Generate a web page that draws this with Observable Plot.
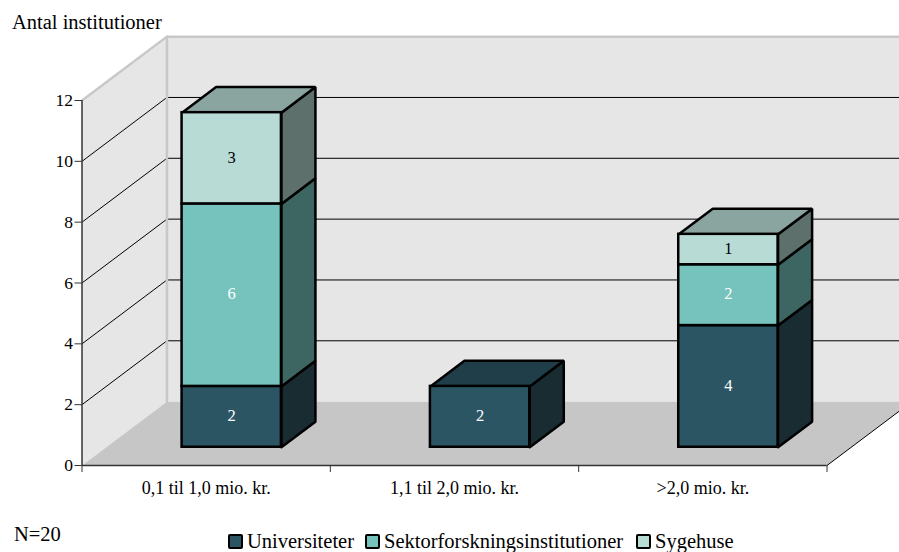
<!DOCTYPE html>
<html lang="da">
<head>
<meta charset="utf-8">
<script src="https://cdn.jsdelivr.net/npm/d3@7"></script>
<script src="https://cdn.jsdelivr.net/npm/@observablehq/plot@0.6"></script>
<style>
  html, body { margin: 0; padding: 0; background: #fff; }
  body { width: 899px; height: 552px; overflow: hidden; font-family: "Liberation Serif", serif; color: #000; position: relative; }
  #title { position: absolute; left: 12px; top: 10px; font-size: 20.5px; line-height: 24px; white-space: nowrap; }
  #chart { position: absolute; left: 0; top: 0; }
  #note { position: absolute; left: 14px; top: 522px; font-size: 20.5px; line-height: 24px; }
  .item { position: absolute; top: 529px; font-size: 20.5px; line-height: 24px; white-space: nowrap; }
  .swatch { position: absolute; top: 5px; left: -19px; width: 11px; height: 11px; border: 2px solid #000; border-radius: 2px; }
</style>
</head>
<body>
<div id="title">Antal institutioner</div>
<div id="chart"></div>
<div id="note">N=20</div>
<div id="legend"></div>
<script>
const categories = ["0,1 til 1,0 mio. kr.", "1,1 til 2,0 mio. kr.", ">2,0 mio. kr."];
const seriesNames = ["Universiteter", "Sektorforskningsinstitutioner", "Sygehuse"];
const universiteter = [2, 2, 4];
const sektor = [6, 0, 2];
const sygehuse = [3, 0, 1];
const seriesValues = [universiteter, sektor, sygehuse];
const yTicks = [0, 2, 4, 6, 8, 10, 12];

const frontColors = ["#2c5564", "#75c3bc", "#b8dcd5"];
const sideColors  = ["#192c32", "#3d6561", "#5d706b"];
const topColors   = ["#1f3e49", "#568f8a", "#8aa5a0"];
const textColors  = ["#ffffff", "#ffffff", "#000000"];
const legendLefts = [247, 384, 655];

// 3-D projection, expressed in the units of the x (category) and y (count) scales
const wallDX = 0.342, wallDY = 2.1;
const barDX = 0.137, barDY = 0.84;
const barBase = 0.6, barLeft = 0.403, barWidth = 0.4;
const wallEndX = 3.5;

const poly = (id, color, pts) => pts.concat(pts.slice(0, 1)).map(([x, y]) => ({id, color, x, y}));

const fronts = [], faces = [], labels = [];
categories.forEach((cat, c) => {
  const x1 = c + barLeft, x2 = x1 + barWidth;
  let y = barBase;
  const active = seriesValues.map((v, s) => s).filter(s => seriesValues[s][c] > 0);
  active.forEach((s, k) => {
    const v = seriesValues[s][c], y2 = y + v;
    faces.push(...poly(`side-${c}-${s}`, sideColors[s],
      [[x2, y], [x2 + barDX, y + barDY], [x2 + barDX, y2 + barDY], [x2, y2]]));
    if (k === active.length - 1) {
      faces.push(...poly(`top-${c}-${s}`, topColors[s],
        [[x1, y2], [x1 + barDX, y2 + barDY], [x2 + barDX, y2 + barDY], [x2, y2]]));
    }
    fronts.push({x1, x2, y1: y, y2, color: frontColors[s]});
    labels.push({x: (x1 + x2) / 2, y: (y + y2) / 2, text: String(v), color: textColors[s]});
    y = y2;
  });
});

const leftWall = poly("left", "#e6e6e6", [[0, 0], [wallDX, wallDY], [wallDX, 12 + wallDY], [0, 12]]);
const backWall = poly("back", "#e6e6e6", [[wallDX, wallDY], [wallEndX, wallDY], [wallEndX, 12 + wallDY], [wallDX, 12 + wallDY]]);
const floor = poly("floor", "#c6c6c6", [[0, 0], [3, 0], [3 + wallDX, wallDY], [wallEndX, wallDY], [wallDX, wallDY]]);

const gridLines = yTicks.filter(v => v > 0 && v < 12).flatMap(v => [
  {id: v, x: 0, y: v}, {id: v, x: wallDX, y: v + wallDY}, {id: v, x: wallEndX, y: v + wallDY}
]);
const wallEdge = [{x: 0, y: 12}, {x: wallDX, y: 12 + wallDY}, {x: wallEndX, y: 12 + wallDY}];
const wallPost = [{x: wallDX, y: 12 + wallDY}, {x: wallDX, y: wallDY}];
const floorEdge = [{x: 3, y: 0}, {x: 3 + wallDX, y: wallDY}];

const chart = Plot.plot({
  width: 899, height: 552,
  marginLeft: 81.5, marginRight: 72.5, marginTop: 100, marginBottom: 87,
  style: {fontFamily: "'Liberation Serif', serif", background: "transparent", color: "#000"},
  x: {domain: [0, 3], axis: null},
  y: {domain: [0, 12], axis: null},
  color: {type: "identity"},
  marks: [
    Plot.line(leftWall, {x: "x", y: "y", z: "id", fill: "color", stroke: null}),
    Plot.line(backWall, {x: "x", y: "y", z: "id", fill: "color", stroke: null}),
    Plot.line(floor, {x: "x", y: "y", z: "id", fill: "color", stroke: null}),
    Plot.line(gridLines, {x: "x", y: "y", z: "id", stroke: "#000", strokeWidth: 1}),
    Plot.line(wallEdge, {x: "x", y: "y", stroke: "#c8c8c8", strokeWidth: 2.5}),
    Plot.line(wallPost, {x: "x", y: "y", stroke: "#c8c8c8", strokeWidth: 2.5}),
    Plot.line(floorEdge, {x: "x", y: "y", stroke: "#000", strokeWidth: 1}),
    Plot.line(faces, {x: "x", y: "y", z: "id", fill: "color", stroke: "#000", strokeWidth: 2.5, strokeLinejoin: "miter"}),
    Plot.rect(fronts, {x1: "x1", x2: "x2", y1: "y1", y2: "y2", fill: "color", stroke: "#000", strokeWidth: 2.5}),
    Plot.text(labels, {x: "x", y: "y", text: "text", fill: "color", fontSize: 16.5, dy: -1}),
    Plot.ruleX([0], {y1: 0, y2: 12, stroke: "#333", strokeWidth: 1.5}),
    Plot.ruleY([0], {x1: 0, x2: 3, stroke: "#333", strokeWidth: 1.5}),
    Plot.axisY({ticks: yTicks, tickSize: 7, tickPadding: 2, fontSize: 17.5, label: null, stroke: "#333"}),
    Plot.axisX({ticks: [0, 1, 2, 3], tickSize: 7, tickFormat: () => "", label: null, stroke: "#333"}),
    Plot.axisX({ticks: [0.5, 1.5, 2.5], tickSize: 0, tickPadding: 16, fontSize: 18, label: null,
      tickFormat: d => categories[d - 0.5]})
  ]
});
document.getElementById("chart").append(chart);

const legend = document.getElementById("legend");
seriesNames.forEach((name, i) => {
  const item = document.createElement("div");
  item.className = "item";
  item.style.left = legendLefts[i] + "px";
  item.textContent = name;
  const sw = document.createElement("span");
  sw.className = "swatch";
  sw.style.background = frontColors[i];
  item.append(sw);
  legend.append(item);
});
</script>
</body>
</html>
